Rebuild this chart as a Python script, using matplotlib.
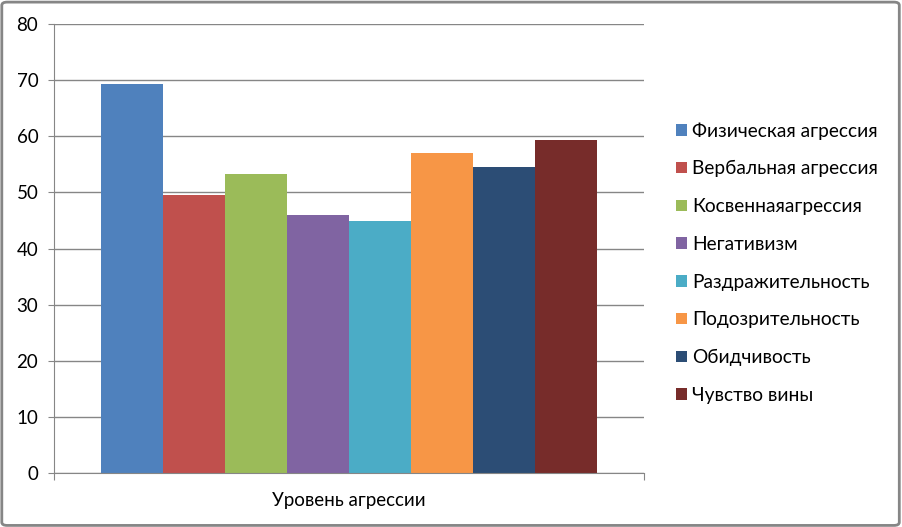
import matplotlib
matplotlib.use('Agg')
import matplotlib.pyplot as plt
from matplotlib.patches import FancyBboxPatch, Patch

plt.rcParams['font.family'] = ['Lato', 'DejaVu Sans']

category = 'Уровень агрессии'
series = ['Физическая агрессия', 'Вербальная агрессия', 'Косвеннаяагрессия',
          'Негативизм', 'Раздражительность', 'Подозрительность',
          'Обидчивость', 'Чувство вины']
values = [69.4, 49.6, 53.3, 46.0, 45.0, 57.1, 54.5, 59.3]
colors = ['#4F81BD', '#C0504D', '#9BBB59', '#8064A2',
          '#4BACC6', '#F79646', '#2C4D75', '#772C2A']

fig = plt.figure(figsize=(9.02, 5.27), dpi=100)
ax = fig.add_axes([0.0602, 0.1019, 0.6534, 0.8526])

# grouped bars around the single category
width = 0.105
for i, (name, val, col) in enumerate(zip(series, values, colors)):
    ax.bar((i - 3.5) * width, val, width=width, color=col, label=name, zorder=2)

ax.set_xlim(-0.5, 0.5)
ax.set_ylim(0, 80)
ax.set_yticks(range(0, 81, 10))
ax.yaxis.grid(True, color='#868686', linewidth=1.0, zorder=0)
ax.set_axisbelow(True)

ax.set_xticks([-0.5, 0.5])
ax.set_xticklabels(['', ''])
ax.set_xticks([0], [category], minor=True)
ax.tick_params(axis='x', which='major', length=5, color='#868686')
ax.tick_params(axis='x', which='minor', length=0, pad=13.5, labelsize=13.5)
ax.tick_params(axis='y', length=4.5, color='#868686', pad=7, labelsize=13.5)

for side in ['top', 'right']:
    ax.spines[side].set_visible(False)
for side in ['left', 'bottom']:
    ax.spines[side].set_color('#868686')

handles = [Patch(facecolor=c, edgecolor='none') for c in colors]
fig.legend(handles, series, loc='center left', bbox_to_anchor=(0.739, 0.501),
           frameon=False, fontsize=13.8, handlelength=0.55, handleheight=0.55,
           handletextpad=0.3, labelspacing=1.08, borderpad=0)

# outer chart frame
fig.patches.append(FancyBboxPatch((0.002, 0.003), 0.995, 0.993,
                                  boxstyle='round,pad=0,rounding_size=0.006',
                                  transform=fig.transFigure, fill=False,
                                  edgecolor='#868686', linewidth=2))

fig.savefig('out.png', dpi=100)
